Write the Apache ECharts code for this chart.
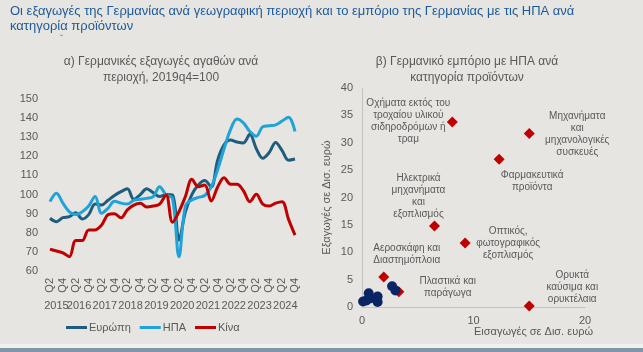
<!DOCTYPE html>
<html>
<head>
<meta charset="utf-8">
<script src="https://cdn.jsdelivr.net/npm/echarts@6/dist/echarts.min.js"></script>
<style>
  html, body { margin: 0; padding: 0; background: #e6e5e1; }
  #chart { width: 643px; height: 352px; }
</style>
</head>
<body>
<div id="chart"></div>
<script>
// left panel: quarterly export index, 2019q4 = 100
var quarters = [
  '2015 Q2','2015 Q3','2015 Q4',
  '2016 Q1','2016 Q2','2016 Q3','2016 Q4',
  '2017 Q1','2017 Q2','2017 Q3','2017 Q4',
  '2018 Q1','2018 Q2','2018 Q3','2018 Q4',
  '2019 Q1','2019 Q2','2019 Q3','2019 Q4',
  '2020 Q1','2020 Q2','2020 Q3','2020 Q4',
  '2021 Q1','2021 Q2','2021 Q3','2021 Q4',
  '2022 Q1','2022 Q2','2022 Q3','2022 Q4',
  '2023 Q1','2023 Q2','2023 Q3','2023 Q4',
  '2024 Q1','2024 Q2','2024 Q3','2024 Q4'
];
var europe = [87.6, 85.8, 87.9, 88.4, 90.5, 87.2, 89.5, 95, 94.5, 97,
  99.5, 101.5, 103, 97.5, 100, 103, 101, 99, 100, 99.8,
  76.2, 91, 100, 105, 107.3, 104, 118, 126, 128.5, 127.5,
  127, 131.5, 124, 119, 122, 127.3, 123, 118, 118.6];
var usa = [96.3, 100.7, 95.5, 91, 89.5, 91, 94, 99, 90.2, 92.8,
  96.5, 95.5, 95, 97, 97.5, 98, 98.9, 104.1, 99.8, 98,
  67.5, 94, 97.2, 98.5, 99.5, 104, 113, 124, 134, 139.5,
  137.5, 133, 130.5, 135.5, 136, 136.5, 138.5, 140.5, 133];
var china = [71.4, 70.5, 69.5, 67.5, 76, 76, 81.5, 81.5, 84, 89.5,
  90, 87.8, 92, 94.5, 95.4, 93.5, 94, 95, 99.8, 85.5,
  91, 99, 108, 104.1, 105, 96.6, 104, 108.8, 105.4, 105.4,
  102, 96.3, 100.1, 95, 94, 95.5, 96.3, 87, 78.8];
var seriesNames = ['Ευρώπη', 'ΗΠΑ', 'Κίνα'];

// right panel: trade with the US by product group, EUR bn
var productNames = [
  'Οχήματα εκτός του\nτροχαίου υλικού\nσιδηροδρόμων ή\nτραμ',
  'Μηχανήματα\nκαι\nμηχανολογικές\nσυσκευές',
  'Φαρμακευτικά\nπροϊόντα',
  'Ηλεκτρικά\nμηχανήματα\nκαι\nεξοπλισμός',
  'Οπτικός,\nφωτογραφικός\nεξοπλισμός',
  'Αεροσκάφη και\nΔιαστημόπλοια',
  'Πλαστικά και\nπαράγωγα',
  'Ορυκτά\nκαύσιμα και\nορυκτέλαια'
];
var productImports = [8.1, 15.0, 12.3, 6.5, 9.25, 1.95, 3.3, 15.0];
var productExports = [33.8, 31.7, 27.0, 14.8, 11.7, 5.5, 2.8, 0.2];
var otherImports = [0.1, 0.4, 0.6, 0.8, 1.4, 1.4, 2.7, 3.0];
var otherExports = [1.0, 1.2, 2.5, 1.6, 1.9, 0.9, 3.8, 3.0];

// label placement for the named products (pixel offsets from the marker)
var labelOffsets = [[-44, -1], [48, 1], [33, 22], [-16, -30], [43, 0], [23, -23], [49, -4], [43, -19]];

var gray = '#595959';
var font = 'Liberation Sans, Arial, sans-serif';

// year labels sit under the middle of each year's quarters
var yearCenters = {};
(function() {
  var groups = {};
  for (var i = 0; i < quarters.length; i++) {
    var y = quarters[i].split(' ')[0];
    if (!groups[y]) groups[y] = [];
    groups[y].push(i);
  }
  for (var y in groups) {
    var g = groups[y];
    yearCenters[(g[0] + g[g.length - 1]) / 2] = y;
  }
})();

var namedData = [];
for (var i = 0; i < productNames.length; i++) {
  namedData.push({
    value: [productImports[i], productExports[i]],
    name: productNames[i],
    label: { offset: labelOffsets[i] }
  });
}
var otherData = [];
for (var i = 0; i < otherImports.length; i++) {
  otherData.push([otherImports[i], otherExports[i]]);
}

var chart = echarts.init(document.getElementById('chart'));
chart.setOption({
  backgroundColor: '#e6e5e1',
  animation: false,
  textStyle: { fontFamily: font },
  grid: [
    { left: 50, top: 99, width: 245, height: 172 },
    { left: 362, top: 88, width: 223, height: 219 }
  ],
  legend: {
    data: seriesNames,
    left: 66, top: 322,
    icon: 'rect', itemWidth: 21, itemHeight: 3, itemGap: 9,
    padding: 0,
    textStyle: { color: gray, fontSize: 11, fontFamily: font, padding: [0, 0, 0, -3] }
  },
  xAxis: [
    {
      type: 'category', gridIndex: 0, data: quarters, boundaryGap: false,
      axisLine: { show: false }, axisTick: { show: false },
      axisLabel: {
        interval: 1, rotate: 90, margin: 7, color: gray, fontSize: 11,
        formatter: function(v) { return v.split(' ')[1]; }
      }
    },
    {
      type: 'value', gridIndex: 0, position: 'bottom',
      min: 0, max: quarters.length - 1, interval: 0.5,
      axisLine: { show: false }, axisTick: { show: false }, splitLine: { show: false },
      axisLabel: {
        margin: 29, color: gray, fontSize: 11,
        formatter: function(v) { return yearCenters[v] || ''; }
      }
    },
    {
      type: 'value', gridIndex: 1, min: 0, max: 20, interval: 10,
      axisLine: { show: true, lineStyle: { color: '#c3c2be' } },
      axisTick: { show: false }, splitLine: { show: false },
      axisLabel: { color: gray, fontSize: 11, margin: 8 },
      name: 'Εισαγωγές σε Δισ. ευρώ', nameLocation: 'end', nameGap: 8,
      nameTextStyle: { color: gray, fontSize: 11, align: 'right', verticalAlign: 'top', padding: [19, 0, 0, 0] }
    }
  ],
  yAxis: [
    {
      type: 'value', gridIndex: 0, min: 60, max: 150, interval: 10,
      axisLine: { show: false }, axisTick: { show: false }, splitLine: { show: false },
      axisLabel: { color: gray, fontSize: 11, margin: 12 }
    },
    {
      type: 'value', gridIndex: 1, min: 0, max: 40, interval: 5,
      axisLine: { show: true, lineStyle: { color: '#c3c2be' } },
      axisTick: { show: false }, splitLine: { show: false },
      axisLabel: { color: gray, fontSize: 11, margin: 9 },
      name: 'Εξαγωγές σε Δισ. ευρώ', nameLocation: 'middle', nameGap: 30,
      nameTextStyle: { color: gray, fontSize: 11 }
    }
  ],
  series: [
    { name: seriesNames[0], type: 'line', xAxisIndex: 0, yAxisIndex: 0, data: europe,
      smooth: 0.35, symbol: 'none', lineStyle: { width: 3, color: '#1f5c7e' }, itemStyle: { color: '#1f5c7e' } },
    { name: seriesNames[1], type: 'line', xAxisIndex: 0, yAxisIndex: 0, data: usa,
      smooth: 0.35, symbol: 'none', lineStyle: { width: 3, color: '#1fa3d8' }, itemStyle: { color: '#1fa3d8' } },
    { name: seriesNames[2], type: 'line', xAxisIndex: 0, yAxisIndex: 0, data: china,
      smooth: 0.35, symbol: 'none', lineStyle: { width: 3, color: '#c00000' }, itemStyle: { color: '#c00000' } },
    { type: 'scatter', xAxisIndex: 2, yAxisIndex: 1, data: namedData,
      symbol: 'diamond', symbolSize: 11, itemStyle: { color: '#c00000', opacity: 1 },
      label: {
        show: true, position: 'inside', align: 'center', verticalAlign: 'middle',
        formatter: '{b}', color: gray, fontSize: 10, lineHeight: 12, fontFamily: font
      }
    },
    { type: 'scatter', xAxisIndex: 2, yAxisIndex: 1, data: otherData,
      symbol: 'circle', symbolSize: 10, itemStyle: { color: '#0a2566', opacity: 1 } }
  ],
  graphic: [
    { type: 'text', left: 10, top: 4,
      style: { text: 'Οι εξαγωγές της Γερμανίας ανά γεωγραφική περιοχή και το εμπόριο της Γερμανίας με τις ΗΠΑ ανά\nκατηγορία προϊόντων',
        fill: '#1d5a9a', font: '13px ' + font, lineHeight: 15 } },
    { type: 'text', left: 60, top: 34, style: { text: '˘', fill: '#8a8a8a', font: '10px ' + font } },
    { type: 'text', x: 161, y: 54,
      style: { text: 'α) Γερμανικές εξαγωγές αγαθών ανά\nπεριοχή, 2019q4=100', align: 'center',
        fill: gray, font: '12px ' + font, lineHeight: 16 } },
    { type: 'text', x: 467, y: 54,
      style: { text: 'β) Γερμανικό εμπόριο με ΗΠΑ ανά\nκατηγορία προϊόντων', align: 'center',
        fill: gray, font: '12px ' + font, lineHeight: 16 } },
    { type: 'rect', left: 0, top: 344, shape: { width: 643, height: 4 }, style: { fill: '#f1f0ed' } },
    { type: 'rect', left: 0, top: 348, shape: { width: 643, height: 4 }, style: { fill: '#8195a9' } }
  ]
});
</script>
</body>
</html>
